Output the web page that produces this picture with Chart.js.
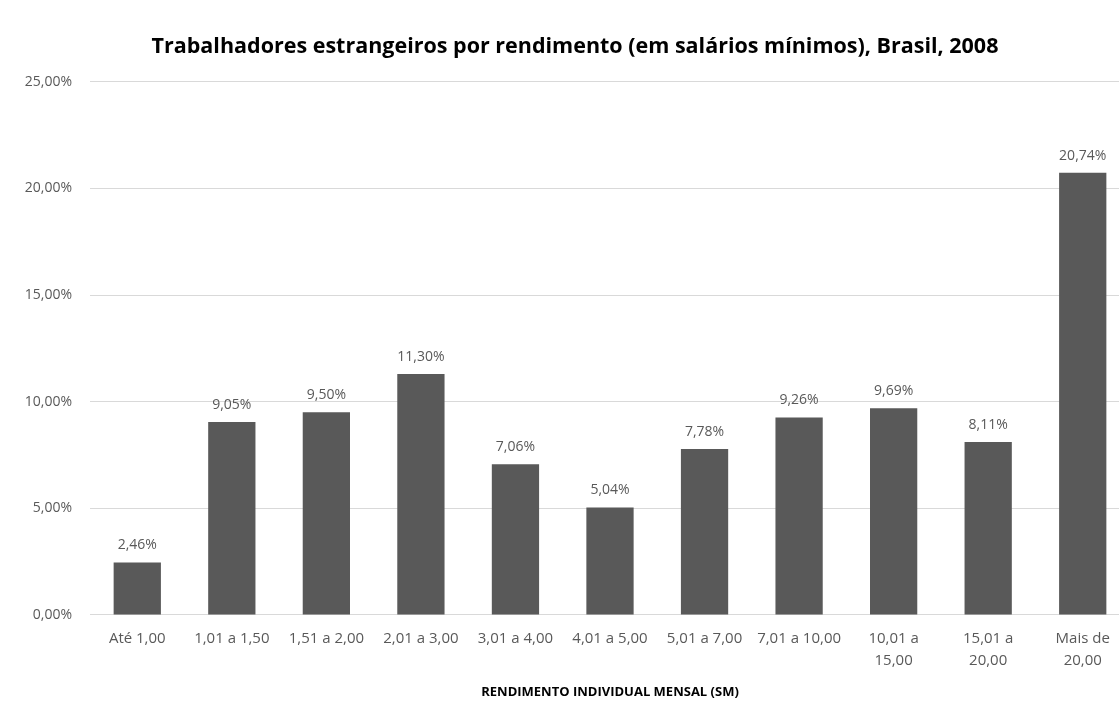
<!DOCTYPE html>
<html lang="pt">

<head>
  <meta charset="UTF-8">
  <title>Trabalhadores estrangeiros por rendimento</title>
  <style>
    html, body {
      margin: 0;
      padding: 0;
      background-color: #ffffff;
      overflow: hidden;
    }

    #wrap {
      width: 1150px;
      height: 701px;
    }
  </style>
</head>

<body>
  <div id="wrap">
    <canvas id="myChart" width="1150" height="701"></canvas>
  </div>
  <script src="https://cdn.jsdelivr.net/npm/chart.js@4.4.1/dist/chart.umd.min.js"></script>
  <script>
    // data
    const categories = [
      "Até 1,00", "1,01 a 1,50", "1,51 a 2,00", "2,01 a 3,00", "3,01 a 4,00",
      "4,01 a 5,00", "5,01 a 7,00", "7,01 a 10,00", ["10,01 a", "15,00"],
      ["15,01 a", "20,00"], ["Mais de", "20,00"]
    ]
    const shares = [2.46, 9.05, 9.50, 11.30, 7.06, 5.04, 7.78, 9.26, 9.69, 8.11, 20.74]
    const yTicks = [0, 5, 10, 15, 20, 25]

    const fmt = v => v.toFixed(2).replace(".", ",") + "%"
    const font = "'Open Sans', 'DejaVu Sans', sans-serif"

    // little value labels over each bar
    const valueLabels = {
      id: "valueLabels",
      afterDatasetsDraw(chart) {
        const ctx = chart.ctx
        const meta = chart.getDatasetMeta(0)
        ctx.save()
        ctx.fillStyle = "#595959"
        ctx.font = "14px " + font
        ctx.textAlign = "center"
        ctx.textBaseline = "bottom"
        meta.data.forEach((bar, i) => {
          ctx.fillText(fmt(shares[i]), bar.x, bar.y - 10)
        })
        ctx.restore()
      }
    }

    const ctx = document.getElementById("myChart").getContext("2d")
    const myChart = new Chart(ctx, {
      type: "bar",
      data: {
        labels: categories,
        datasets: [{
          label: "Trabalhadores estrangeiros",
          data: shares,
          backgroundColor: "#595959",
          barPercentage: 0.5,
          categoryPercentage: 1
        }]
      },
      options: {
        responsive: false,
        animation: false,
        layout: { padding: { left: 20, right: 20, top: 12, bottom: 1 } },
        plugins: {
          legend: { display: false },
          tooltip: { enabled: false },
          title: {
            display: true,
            text: "Trabalhadores estrangeiros por rendimento (em salários mínimos), Brasil, 2008",
            color: "#000000",
            font: { family: font, size: 21.5, weight: "bold" },
            padding: { top: 22, bottom: 22 }
          }
        },
        scales: {
          x: {
            grid: { display: false, drawTicks: false },
            border: { color: "#d9d9d9", width: 1 },
            ticks: {
              color: "#595959",
              font: { family: font, size: 15, lineHeight: 1.45 },
              padding: 13,
              maxRotation: 0,
              autoSkip: false
            },
            title: {
              display: true,
              text: "RENDIMENTO INDIVIDUAL MENSAL (SM)",
              color: "#000000",
              font: { family: font, size: 13, weight: "bold" },
              padding: { top: 0, bottom: 0 }
            }
          },
          y: {
            min: 0,
            max: 25,
            afterFit: scale => { scale.width = 70 },
            afterBuildTicks: scale => { scale.ticks = yTicks.map(v => ({ value: v })) },
            grid: { color: "#d9d9d9", drawTicks: false },
            border: { display: false },
            ticks: {
              color: "#595959",
              font: { family: font, size: 14 },
              padding: 18,
              callback: v => fmt(v)
            }
          }
        }
      },
      plugins: [valueLabels]
    })
  </script>
</body>

</html>
